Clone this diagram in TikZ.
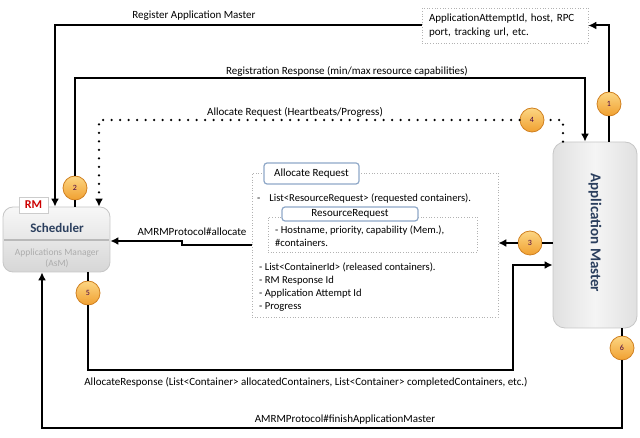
\documentclass[tikz,border=0pt]{standalone}
\usepackage{fontspec}
\setmainfont{Carlito}
\usetikzlibrary{arrows.meta}
\definecolor{navy}{HTML}{2B3F5E}
\definecolor{orng}{HTML}{F0A030}
\definecolor{orngl}{HTML}{FCD684}
\definecolor{orngd}{HTML}{D08020}
\definecolor{boxblue}{HTML}{8FA8C8}

\begin{document}
\begin{tikzpicture}[x=1pt,y=-1pt,
	line/.style={line width=2pt},
	arr/.style={line width=2pt, -{Latex[length=8pt,width=8pt]}},
	dots/.style={line width=2.6pt, dash pattern=on 0pt off 8.5pt, line cap=round},
	num/.style={circle, draw=orngd, line width=0.8pt, top color=orngl, bottom color=orng, minimum size=24pt, inner sep=0pt, font=\fontsize{8}{8}\selectfont, text=violet!55!black},
	lbl/.style={font=\fontsize{11}{13}\selectfont},
	txt/.style={font=\fontsize{10.6}{13}\selectfont, align=left, inner sep=0pt},
	dbox/.style={draw=gray!60, dotted, line width=0.7pt},
	tbox/.style={draw=boxblue, fill=white, rounded corners=3pt, line width=1.2pt, font=\fontsize{11}{13}\selectfont, inner sep=0pt}]
		\useasboundingbox (0,0) rectangle (640,438);

		\node (sched)[draw=gray!45, rounded corners=10pt, top color=gray!6, bottom color=gray!32, minimum width=107pt, minimum height=65pt, line width=0.8pt] at (56.5,239.5) {};
		\draw [gray!55, line width=1.5pt] (4,240) -- (109,240);
		\node (schedt)[font=\fontsize{13}{15}\selectfont\bfseries, text=navy] at (57,228) {Scheduler};
		\node (asm)[font=\fontsize{9.5}{11}\selectfont, text=gray!65, align=center] at (57,258) {Applications Manager\\(AsM)};
		\node (rm)[draw=gray!40, fill=white, text=red!80!black, font=\fontsize{12}{12}\selectfont\bfseries, minimum width=29pt, minimum height=16pt, inner sep=0pt] at (33.5,205) {RM};

		\node (am)[draw=gray!45, rounded corners=12pt, left color=gray!24, right color=gray!24, middle color=gray!8, minimum width=84pt, minimum height=186pt, line width=0.8pt] at (595,235) {};
		\node (amt)[rotate=-90, font=\fontsize{15}{15}\selectfont\bfseries, text=navy] at (595,233) {Application Master};

		\node (info)[dbox, minimum width=166pt, minimum height=35pt, text width=152pt, inner xsep=7pt, align=left, font=\fontsize{11}{14.5}\selectfont] at (505,25.5) {ApplicationAttemptId, host, RPC\\port, tracking url, etc.};

		\node (req)[dbox, minimum width=246pt, minimum height=144pt] at (375,245) {};
		\node (reqt)[tbox, minimum width=95pt, minimum height=21pt] at (311.5,173.5) {Allocate Request};
		\node (rr)[dbox, minimum width=209pt, minimum height=35pt] at (372.5,234.5) {};
		\node (rrt)[tbox, minimum width=136pt, minimum height=14pt] at (350,214) {ResourceRequest};
		\node (l1)[txt, anchor=west] at (257,198) {-\hspace{9pt}List<ResourceRequest> (requested containers).};
		\node (l2)[txt, anchor=west] at (275,236) {- Hostname, priority, capability (Mem.),\\\#containers.};
		\node (l3)[txt, anchor=west] at (259,287) {- List<ContainerId> (released containers).\\- RM Response Id\\- Application Attempt Id\\- Progress};

		\node (c1)[num] at (609,104) {1};
		\node (c2)[num] at (75,188) {2};
		\node (c3)[num] at (530,243) {3};
		\node (c4)[num] at (532,120) {4};
		\node (c5)[num] at (88,293) {5};
		\node (c6)[num] at (622,348) {6};

		\node (lreg)[lbl] at (194,16) {Register Application Master};
		\node (lresp)[lbl] at (347,71) {Registration Response (min/max resource capabilities)};
		\node (lalloc)[lbl] at (295,112) {Allocate Request (Heartbeats/Progress)};
		\node (lprot)[lbl] at (192,232) {AMRMProtocol\#allocate};
		\node (lar)[lbl] at (306,382) {AllocateResponse (List<Container> allocatedContainers, List<Container> completedContainers, etc.)};
		\node (lfin)[lbl] at (345,420) {AMRMProtocol\#finishApplicationMaster};

		\coordinate (x1) at (55,0);
		\coordinate (x3) at (99,0);
		\coordinate (r2) at (585,78);
		\coordinate (q4) at (563,120);
		\coordinate (j1) at (182,245);
		\coordinate (j2) at (182,241);
		\coordinate (b1) at (513,370);
		\coordinate (b2) at (513,265);
		\coordinate (b3) at (42,428);

		\draw [line](am.north -| c1) -- (c1);
		\draw [arr](c1) |- (info.east);
		\draw [arr](info.west) -| (sched.north -| x1);

		\draw [line](sched.north -| c2) -- (c2);
		\draw [arr](c2) |- (r2) -- (r2 |- am.north);

		\draw [dots](am.north -| q4) -- (q4) -- (c4);
		\draw [arr, dots](c4) -| (sched.north -| x3);

		\draw [line](am.west |- c3) -- (c3);
		\draw [arr](c3) -- (req.east |- c3);
		\draw [arr](req.west |- j1) -- (j1) -- (j2) -- (sched.east |- j2);

		\draw [line](sched.south -| c5) -- (c5);
		\draw [arr](c5) |- (b1) -- (b2) -- (am.west |- b2);

		\draw [line](am.south -| c6) -- (c6);
		\draw [arr](c6) |- (b3) -- (b3 |- sched.south);
	\end{tikzpicture}
\end{document}
